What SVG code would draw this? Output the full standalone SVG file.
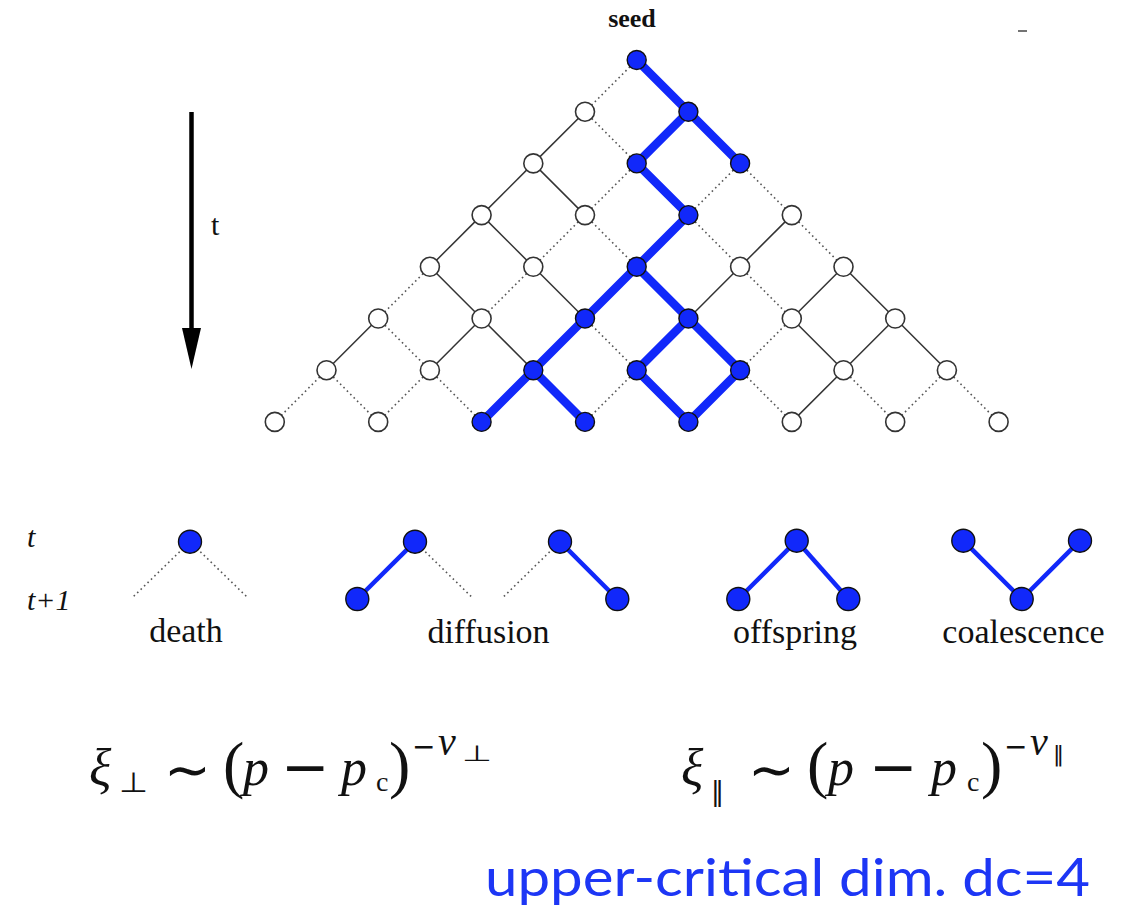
<svg xmlns="http://www.w3.org/2000/svg" width="1127" height="918" viewBox="0 0 1127 918">
<defs>
<style>
.sol{stroke:#333;stroke-width:1.5;fill:none}
.dot{stroke:#555;stroke-width:1.6;stroke-dasharray:1.6,3.2;fill:none}
.blu{stroke:#1128fa;stroke-width:8.5;fill:none;stroke-linecap:round}
.lblu{stroke:#1128fa;stroke-width:4.5;fill:none}
.wn{fill:#fff;stroke:#333;stroke-width:1.6}
.bn{fill:#1128fa;stroke:#111;stroke-width:1.4}
.lbl{font-family:"Liberation Serif",serif;font-size:34px;fill:#111;text-anchor:middle}
.it{font-family:"Liberation Serif",serif;font-style:italic;fill:#111}
.rm{font-family:"Liberation Serif",serif;fill:#111}
.sy{font-family:"DejaVu Sans",sans-serif;fill:#111}
</style>
</defs>
<rect width="1127" height="918" fill="#fff"/>

<text x="632" y="27" font-family="Liberation Serif,serif" font-weight="bold" font-size="26" text-anchor="middle" fill="#111">seed</text>
<line x1="1018" y1="31" x2="1027" y2="31" stroke="#444" stroke-width="1.5"/>

<g id="time-arrow">
<line x1="191.5" y1="112" x2="191.5" y2="335" stroke="#000" stroke-width="4.5"/>
<polygon points="182,328 201,328 191.5,369" fill="#000"/>
<text x="211" y="235" font-family="Liberation Serif,serif" font-size="30" fill="#111">t</text>
</g>

<g id="connectors">
<g class="dot">
<line x1="636.7" y1="60" x2="585" y2="111.7"/>
<line x1="585" y1="111.7" x2="636.7" y2="163.4"/>
<line x1="636.7" y1="163.4" x2="585" y2="215.1"/>
<line x1="740.1" y1="163.4" x2="688.4" y2="215.1"/>
<line x1="740.1" y1="163.4" x2="791.8" y2="215.1"/>
<line x1="585" y1="215.1" x2="533.3" y2="266.8"/>
<line x1="585" y1="215.1" x2="636.7" y2="266.8"/>
<line x1="688.4" y1="215.1" x2="740.1" y2="266.8"/>
<line x1="791.8" y1="215.1" x2="843.5" y2="266.8"/>
<line x1="429.9" y1="266.8" x2="378.2" y2="318.5"/>
<line x1="533.3" y1="266.8" x2="481.6" y2="318.5"/>
<line x1="740.1" y1="266.8" x2="791.8" y2="318.5"/>
<line x1="378.2" y1="318.5" x2="429.9" y2="370.2"/>
<line x1="585" y1="318.5" x2="636.7" y2="370.2"/>
<line x1="791.8" y1="318.5" x2="740.1" y2="370.2"/>
<line x1="326.5" y1="370.2" x2="274.8" y2="421.9"/>
<line x1="326.5" y1="370.2" x2="378.2" y2="421.9"/>
<line x1="429.9" y1="370.2" x2="378.2" y2="421.9"/>
<line x1="429.9" y1="370.2" x2="481.6" y2="421.9"/>
<line x1="636.7" y1="370.2" x2="585" y2="421.9"/>
<line x1="740.1" y1="370.2" x2="791.8" y2="421.9"/>
<line x1="843.5" y1="370.2" x2="895.2" y2="421.9"/>
<line x1="946.9" y1="370.2" x2="895.2" y2="421.9"/>
<line x1="946.9" y1="370.2" x2="998.6" y2="421.9"/>
</g>
<g class="sol">
<line x1="585" y1="111.7" x2="533.3" y2="163.4"/>
<line x1="533.3" y1="163.4" x2="481.6" y2="215.1"/>
<line x1="533.3" y1="163.4" x2="585" y2="215.1"/>
<line x1="481.6" y1="215.1" x2="429.9" y2="266.8"/>
<line x1="481.6" y1="215.1" x2="533.3" y2="266.8"/>
<line x1="791.8" y1="215.1" x2="740.1" y2="266.8"/>
<line x1="429.9" y1="266.8" x2="481.6" y2="318.5"/>
<line x1="533.3" y1="266.8" x2="585" y2="318.5"/>
<line x1="740.1" y1="266.8" x2="688.4" y2="318.5"/>
<line x1="843.5" y1="266.8" x2="791.8" y2="318.5"/>
<line x1="843.5" y1="266.8" x2="895.2" y2="318.5"/>
<line x1="378.2" y1="318.5" x2="326.5" y2="370.2"/>
<line x1="481.6" y1="318.5" x2="429.9" y2="370.2"/>
<line x1="481.6" y1="318.5" x2="533.3" y2="370.2"/>
<line x1="791.8" y1="318.5" x2="843.5" y2="370.2"/>
<line x1="895.2" y1="318.5" x2="843.5" y2="370.2"/>
<line x1="895.2" y1="318.5" x2="946.9" y2="370.2"/>
<line x1="843.5" y1="370.2" x2="791.8" y2="421.9"/>
</g>
<g class="blu">
<line x1="636.7" y1="60" x2="688.4" y2="111.7"/>
<line x1="688.4" y1="111.7" x2="636.7" y2="163.4"/>
<line x1="688.4" y1="111.7" x2="740.1" y2="163.4"/>
<line x1="636.7" y1="163.4" x2="688.4" y2="215.1"/>
<line x1="688.4" y1="215.1" x2="636.7" y2="266.8"/>
<line x1="636.7" y1="266.8" x2="585" y2="318.5"/>
<line x1="636.7" y1="266.8" x2="688.4" y2="318.5"/>
<line x1="585" y1="318.5" x2="533.3" y2="370.2"/>
<line x1="533.3" y1="370.2" x2="481.6" y2="421.9"/>
<line x1="533.3" y1="370.2" x2="585" y2="421.9"/>
<line x1="688.4" y1="318.5" x2="636.7" y2="370.2"/>
<line x1="688.4" y1="318.5" x2="740.1" y2="370.2"/>
<line x1="636.7" y1="370.2" x2="688.4" y2="421.9"/>
<line x1="740.1" y1="370.2" x2="688.4" y2="421.9"/>
</g>
<g id="legend-connectors">
<line class="dot" x1="190" y1="541.7" x2="133" y2="597"/>
<line class="dot" x1="190" y1="541.7" x2="247" y2="597"/>
<line class="lblu" x1="415" y1="541.7" x2="357.3" y2="599"/>
<line class="dot" x1="415" y1="541.7" x2="471.7" y2="597"/>
<line class="dot" x1="560" y1="541.7" x2="503.3" y2="597"/>
<line class="lblu" x1="560" y1="541.7" x2="617.3" y2="599"/>
<line class="lblu" x1="796.7" y1="540.7" x2="738.3" y2="599"/>
<line class="lblu" x1="796.7" y1="540.7" x2="848.3" y2="599"/>
<line class="lblu" x1="963.3" y1="540.7" x2="1021.7" y2="599"/>
<line class="lblu" x1="1080" y1="540.7" x2="1021.7" y2="599"/>
</g>
</g>

<g id="lattice-nodes">
<g class="wn">
<circle cx="585" cy="111.7" r="9.5"/>
<circle cx="533.3" cy="163.4" r="9.5"/>
<circle cx="481.6" cy="215.1" r="9.5"/><circle cx="585" cy="215.1" r="9.5"/><circle cx="791.8" cy="215.1" r="9.5"/>
<circle cx="429.9" cy="266.8" r="9.5"/><circle cx="533.3" cy="266.8" r="9.5"/><circle cx="740.1" cy="266.8" r="9.5"/><circle cx="843.5" cy="266.8" r="9.5"/>
<circle cx="378.2" cy="318.5" r="9.5"/><circle cx="481.6" cy="318.5" r="9.5"/><circle cx="791.8" cy="318.5" r="9.5"/><circle cx="895.2" cy="318.5" r="9.5"/>
<circle cx="326.5" cy="370.2" r="9.5"/><circle cx="429.9" cy="370.2" r="9.5"/><circle cx="843.5" cy="370.2" r="9.5"/><circle cx="946.9" cy="370.2" r="9.5"/>
<circle cx="274.8" cy="421.9" r="9.5"/><circle cx="378.2" cy="421.9" r="9.5"/><circle cx="791.8" cy="421.9" r="9.5"/><circle cx="895.2" cy="421.9" r="9.5"/><circle cx="998.6" cy="421.9" r="9.5"/>
</g>
<g class="bn">
<circle cx="636.7" cy="60" r="9.5"/>
<circle cx="688.4" cy="111.7" r="9.5"/>
<circle cx="636.7" cy="163.4" r="9.5"/><circle cx="740.1" cy="163.4" r="9.5"/>
<circle cx="688.4" cy="215.1" r="9.5"/>
<circle cx="636.7" cy="266.8" r="9.5"/>
<circle cx="585" cy="318.5" r="9.5"/><circle cx="688.4" cy="318.5" r="9.5"/>
<circle cx="533.3" cy="370.2" r="9.5"/><circle cx="636.7" cy="370.2" r="9.5"/><circle cx="740.1" cy="370.2" r="9.5"/>
<circle cx="481.6" cy="421.9" r="9.5"/><circle cx="585" cy="421.9" r="9.5"/><circle cx="688.4" cy="421.9" r="9.5"/>
</g>
</g>

<g id="legend-rows">
<text class="it" x="27" y="547" font-size="30">t</text>
<text class="it" x="27" y="610" font-size="30">t+1</text>
</g>

<g id="legend-death">
<circle class="bn" cx="190" cy="541.7" r="11.5"/>
<text class="lbl" x="186" y="642">death</text>
</g>
<g id="legend-diffusion">
<circle class="bn" cx="415" cy="541.7" r="11.5"/>
<circle class="bn" cx="357.3" cy="599" r="11.5"/>
<circle class="bn" cx="560" cy="541.7" r="11.5"/>
<circle class="bn" cx="617.3" cy="599" r="11.5"/>
<text class="lbl" x="488.5" y="643">diffusion</text>
</g>
<g id="legend-offspring">
<circle class="bn" cx="796.7" cy="540.7" r="11.5"/>
<circle class="bn" cx="738.3" cy="599" r="11.5"/>
<circle class="bn" cx="848.3" cy="599" r="11.5"/>
<text class="lbl" x="795" y="643">offspring</text>
</g>
<g id="legend-coalescence">
<circle class="bn" cx="963.3" cy="540.7" r="11.5"/>
<circle class="bn" cx="1080" cy="540.7" r="11.5"/>
<circle class="bn" cx="1021.7" cy="599" r="11.5"/>
<text class="lbl" x="1023.5" y="643">coalescence</text>
</g>

<g id="formula-perp">
<text class="it" x="89" y="785" font-size="52">ξ</text>
<text class="sy" x="119" y="792" font-size="28" textLength="29" lengthAdjust="spacingAndGlyphs">⊥</text>
<text class="sy" x="164" y="789" font-size="56">∼</text>
<text class="rm" x="223" y="786" font-size="64">(</text>
<text class="it" x="243" y="785" font-size="52">p</text>
<text class="sy" x="281" y="787" font-size="58">−</text>
<text class="it" x="341" y="785" font-size="52">p</text>
<text class="rm" x="376" y="791" font-size="28">c</text>
<text class="rm" x="389" y="786" font-size="64">)</text>
<text class="sy" x="412" y="756" font-size="28">−</text>
<text class="it" x="438" y="755" font-size="40">ν</text>
<text class="sy" x="462" y="761" font-size="22" textLength="30" lengthAdjust="spacingAndGlyphs">⊥</text>
</g>

<g id="formula-par">
<text class="it" x="681" y="785" font-size="52">ξ</text>
<text class="sy" x="711" y="800" font-size="26">‖</text>
<text class="sy" x="748" y="789" font-size="56">∼</text>
<text class="rm" x="807" y="786" font-size="64">(</text>
<text class="it" x="828" y="785" font-size="52">p</text>
<text class="sy" x="869" y="787" font-size="58">−</text>
<text class="it" x="931" y="785" font-size="52">p</text>
<text class="rm" x="967" y="791" font-size="28">c</text>
<text class="rm" x="981" y="786" font-size="64">)</text>
<text class="sy" x="1004" y="756" font-size="28">−</text>
<text class="it" x="1030" y="755" font-size="40">ν</text>
<text class="sy" x="1053" y="761" font-size="22">‖</text>
</g>

<text x="485" y="896" font-family="Lato,'Open Sans',sans-serif" font-size="52" fill="#1d36f5" textLength="605" lengthAdjust="spacingAndGlyphs">upper-critical dim. dc=4</text>
</svg>
